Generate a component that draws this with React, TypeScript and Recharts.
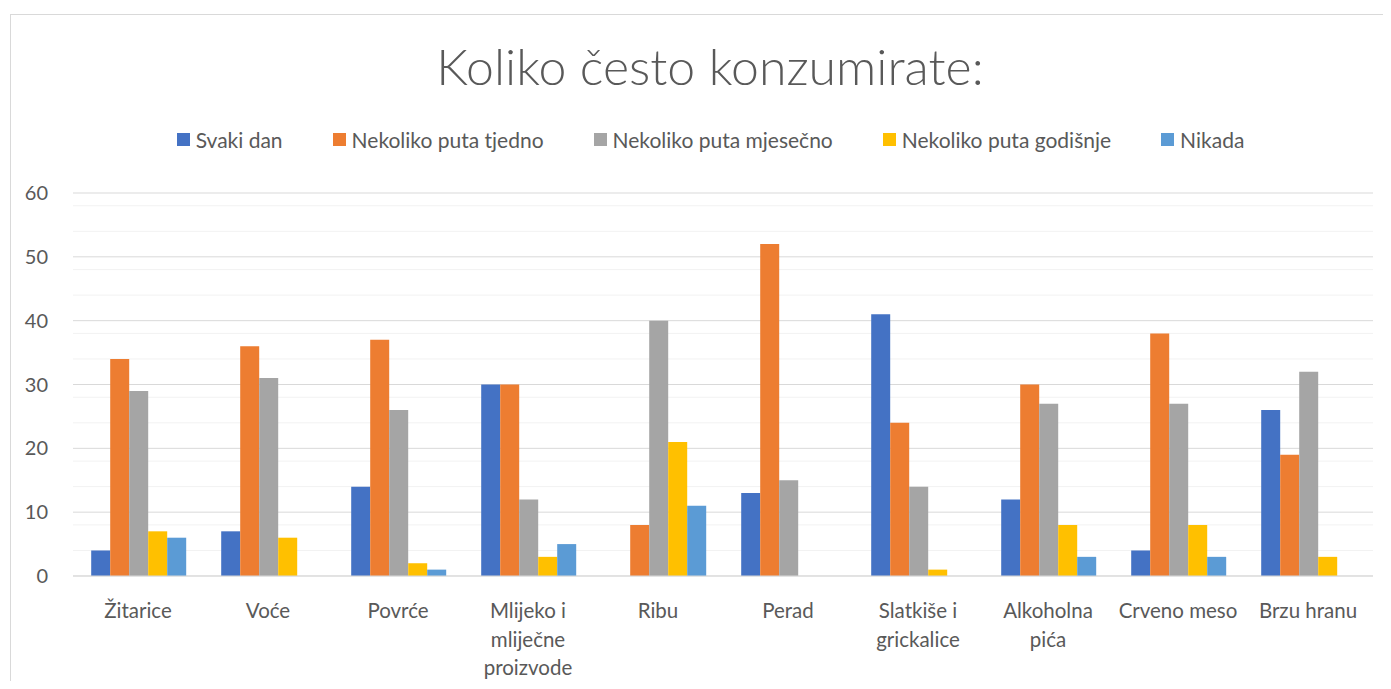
import { BarChart, Bar, XAxis, YAxis, CartesianGrid } from 'recharts';

const categories = ['Žitarice', 'Voće', 'Povrće', 'Mlijeko i mliječne proizvode', 'Ribu', 'Perad', 'Slatkiše i grickalice', 'Alkoholna pića', 'Crveno meso', 'Brzu hranu'];

const svakiDan = [4, 7, 14, 30, 0, 13, 41, 12, 4, 26];
const tjedno = [34, 36, 37, 30, 8, 52, 24, 30, 38, 19];
const mjesecno = [29, 31, 26, 12, 40, 15, 14, 27, 27, 32];
const godisnje = [7, 6, 2, 3, 21, 0, 1, 8, 8, 3];
const nikada = [6, 0, 1, 5, 11, 0, 0, 3, 3, 0];

const yTicks = [0, 10, 20, 30, 40, 50, 60];
const minorTicks = [2, 4, 6, 8, 12, 14, 16, 18, 22, 24, 26, 28, 32, 34, 36, 38, 42, 44, 46, 48, 52, 54, 56, 58];

const series = [
  { key: 'svaki', name: 'Svaki dan', color: '#4472C4', values: svakiDan },
  { key: 'tjedno', name: 'Nekoliko puta tjedno', color: '#ED7D31', values: tjedno },
  { key: 'mjesecno', name: 'Nekoliko puta mjesečno', color: '#A5A5A5', values: mjesecno },
  { key: 'godisnje', name: 'Nekoliko puta godišnje', color: '#FFC000', values: godisnje },
  { key: 'nikada', name: 'Nikada', color: '#5B9BD5', values: nikada },
];

const data = categories.map((c, i) => {
  const row: Record<string, any> = { name: c };
  series.forEach((s) => { row[s.key] = s.values[i]; });
  return row;
});

const FONT = 'Lato, "Open Sans", sans-serif';
const TEXT = '#595959';
const LABEL_SIZE = 20.5;

// greedy word wrap, measured with a canvas
const wrap = (label: string, maxWidth: number) => {
  const ctx = document.createElement('canvas').getContext('2d')!;
  ctx.font = `${LABEL_SIZE}px ${FONT}`;
  const lines: string[] = [];
  let cur = '';
  label.split(' ').forEach((w) => {
    const next = cur ? cur + ' ' + w : w;
    if (cur && ctx.measureText(next).width > maxWidth) {
      lines.push(cur);
      cur = w;
    } else {
      cur = next;
    }
  });
  if (cur) lines.push(cur);
  return lines;
};

const CategoryTick = (props: any) => {
  const { x, y, payload } = props;
  const lines = wrap(payload.value, 122);
  return (
    <text x={x} y={y + 34} textAnchor="middle" fill={TEXT} fontSize={LABEL_SIZE} fontFamily={FONT}>
      {lines.map((l, i) => (
        <tspan key={i} x={x} dy={i === 0 ? 0 : 28.5}>{l}</tspan>
      ))}
    </text>
  );
};

export default function App() {
  return (
    <div style={{ position: 'relative', width: 1391, height: 689, margin: -8, overflow: 'hidden', background: '#fff' }}>
      <div style={{ position: 'absolute', left: 10, top: 14, width: 1400, height: 700, border: '1.5px solid #d9d9d9', boxSizing: 'border-box' }} />
      <div style={{ position: 'absolute', left: 10, width: 1400, top: 36, textAlign: 'center', fontFamily: FONT, fontWeight: 300, fontSize: 50, color: TEXT }}>
        Koliko često konzumirate:
      </div>
      <div style={{ position: 'absolute', left: 0, width: 1421, top: 127, display: 'flex', justifyContent: 'center', gap: 50, fontFamily: FONT, fontSize: 21, color: TEXT }}>
        {series.map((s) => (
          <div key={s.key} style={{ display: 'flex', alignItems: 'center' }}>
            <span style={{ display: 'inline-block', width: 13, height: 13, background: s.color, marginRight: 6 }} />
            <span>{s.name}</span>
          </div>
        ))}
      </div>
      <div style={{ position: 'absolute', left: 0, top: 0 }}>
        <BarChart width={1391} height={689} data={data} margin={{ top: 193, right: 18, bottom: 0, left: 13 }}
          barCategoryGap="14%" barGap={0}>
          <CartesianGrid vertical={false} horizontalValues={minorTicks} stroke="#f2f2f2" />
          <CartesianGrid vertical={false} stroke="#d9d9d9" />
          <XAxis dataKey="name" height={113} axisLine={{ stroke: '#d9d9d9' }} tickLine={false} interval={0}
            tick={<CategoryTick />} />
          <YAxis domain={[0, 60]} ticks={yTicks} width={60} axisLine={false} tickLine={false} tickSize={0} tickMargin={25}
            tick={{ fill: TEXT, fontSize: 20, fontFamily: FONT }} />
          {series.map((s) => (
            <Bar key={s.key} dataKey={s.key} name={s.name} fill={s.color} isAnimationActive={false} />
          ))}
        </BarChart>
      </div>
    </div>
  );
}
